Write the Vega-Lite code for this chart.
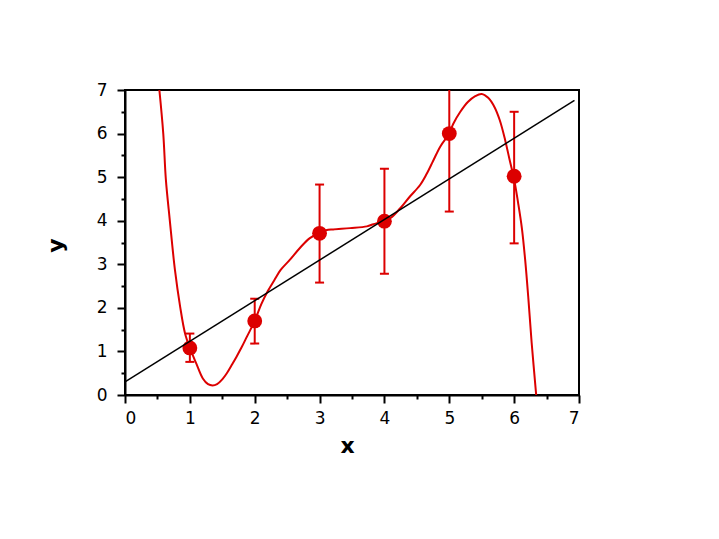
{
  "$schema": "https://vega.github.io/schema/vega-lite/v6.json",
  "width": 454,
  "height": 305,
  "autosize": "none",
  "padding": {"left": 125, "top": 90, "right": 140, "bottom": 144},
  "background": "white",
  "config": {
    "view": {"stroke": "black", "strokeWidth": 2},
    "axis": {
      "domainColor": "black",
      "domainWidth": 2,
      "tickColor": "black",
      "tickWidth": 2,
      "grid": false,
      "labelFont": "DejaVu Sans",
      "labelFontSize": 17,
      "labelColor": "black",
      "titleFont": "DejaVu Sans",
      "titleFontWeight": "bold",
      "titleFontSize": 22,
      "titleColor": "black"
    }
  },
  "datasets": {
    "pts": [
      {"x": 1, "y": 1.08, "lo": 0.76, "hi": 1.41},
      {"x": 2, "y": 1.70, "lo": 1.18, "hi": 2.21},
      {"x": 3, "y": 3.71, "lo": 2.58, "hi": 4.83},
      {"x": 4, "y": 3.99, "lo": 2.78, "hi": 5.19},
      {"x": 5, "y": 6.00, "lo": 4.21, "hi": 7.5},
      {"x": 6, "y": 5.02, "lo": 3.48, "hi": 6.50}
    ],
    "curve": [
      {"x": 0.53, "y": 7.0}, {"x": 0.59, "y": 6.0}, {"x": 0.63, "y": 4.95}, {"x": 0.69, "y": 4.02},
      {"x": 0.77, "y": 2.87}, {"x": 0.85, "y": 2.03}, {"x": 0.925, "y": 1.42}, {"x": 1.0, "y": 1.08},
      {"x": 1.1, "y": 0.72}, {"x": 1.2, "y": 0.38}, {"x": 1.28, "y": 0.25}, {"x": 1.35, "y": 0.22},
      {"x": 1.42, "y": 0.25}, {"x": 1.5, "y": 0.36}, {"x": 1.57, "y": 0.5}, {"x": 1.65, "y": 0.7},
      {"x": 1.72, "y": 0.88}, {"x": 1.8, "y": 1.1}, {"x": 1.88, "y": 1.34}, {"x": 2.0, "y": 1.7},
      {"x": 2.1, "y": 2.08}, {"x": 2.2, "y": 2.38}, {"x": 2.3, "y": 2.63}, {"x": 2.4, "y": 2.87},
      {"x": 2.54, "y": 3.1}, {"x": 2.7, "y": 3.38}, {"x": 2.85, "y": 3.6}, {"x": 3.0, "y": 3.72},
      {"x": 3.1, "y": 3.78}, {"x": 3.21, "y": 3.8}, {"x": 3.47, "y": 3.83}, {"x": 3.73, "y": 3.87},
      {"x": 3.83, "y": 3.92}, {"x": 3.98, "y": 3.99}, {"x": 4.1, "y": 4.07}, {"x": 4.24, "y": 4.28},
      {"x": 4.39, "y": 4.55}, {"x": 4.55, "y": 4.82}, {"x": 4.65, "y": 5.07}, {"x": 4.75, "y": 5.37},
      {"x": 4.86, "y": 5.7}, {"x": 5.0, "y": 6.0}, {"x": 5.06, "y": 6.22}, {"x": 5.17, "y": 6.5},
      {"x": 5.29, "y": 6.73}, {"x": 5.4, "y": 6.86}, {"x": 5.5, "y": 6.91}, {"x": 5.6, "y": 6.82},
      {"x": 5.7, "y": 6.6}, {"x": 5.78, "y": 6.3}, {"x": 5.86, "y": 5.86}, {"x": 5.93, "y": 5.4},
      {"x": 6.0, "y": 4.95}, {"x": 6.06, "y": 4.42}, {"x": 6.12, "y": 3.82}, {"x": 6.17, "y": 3.1},
      {"x": 6.22, "y": 2.2}, {"x": 6.27, "y": 1.2}, {"x": 6.34, "y": 0.0}
    ],
    "fit": [
      {"x": 0, "y": 0.3},
      {"x": 6.93, "y": 6.76}
    ]
  },
  "resolve": {"axis": {"x": "independent", "y": "independent"}},
  "layer": [
    {
      "data": {"name": "pts"},
      "mark": {"type": "rule", "color": "#dc0000", "strokeWidth": 2, "clip": true},
      "encoding": {
        "x": {"field": "x", "type": "quantitative", "scale": {"domain": [0, 7], "nice": false},
          "axis": {"values": [0, 1, 2, 3, 4, 5, 6, 7], "tickSize": 8, "labelPadding": 7, "labelAngle": 0,
            "title": "x", "titleX": 222, "titleY": 57, "titleBaseline": "alphabetic", "titleAlign": "center", "orient": "bottom"}},
        "y": {"field": "lo", "type": "quantitative", "scale": {"domain": [0, 7], "nice": false},
          "axis": {"values": [0, 1, 2, 3, 4, 5, 6, 7], "tickSize": 8, "labelPadding": 10,
            "title": "y", "titleX": -63, "titleY": 155, "titleAngle": 270, "titleBaseline": "alphabetic", "titleAlign": "center", "orient": "left"}},
        "y2": {"field": "hi"}
      }
    },
    {
      "data": {"name": "pts"},
      "mark": {"type": "tick", "orient": "horizontal", "size": 9, "thickness": 2, "color": "#dc0000", "opacity": 1, "clip": true},
      "encoding": {
        "x": {"field": "x", "type": "quantitative", "scale": {"domain": [0, 7], "nice": false},
          "axis": {"values": [0.5, 1.5, 2.5, 3.5, 4.5, 5.5, 6.5], "tickSize": 4, "labels": false, "domain": false, "title": null, "orient": "bottom"}},
        "y": {"field": "lo", "type": "quantitative", "scale": {"domain": [0, 7], "nice": false},
          "axis": {"values": [0.5, 1.5, 2.5, 3.5, 4.5, 5.5, 6.5], "tickSize": 4, "labels": false, "domain": false, "title": null, "orient": "left"}}
      }
    },
    {
      "data": {"name": "pts"},
      "mark": {"type": "tick", "orient": "horizontal", "size": 9, "thickness": 2, "color": "#dc0000", "opacity": 1, "clip": true},
      "encoding": {
        "x": {"field": "x", "type": "quantitative", "scale": {"domain": [0, 7], "nice": false}, "axis": null},
        "y": {"field": "hi", "type": "quantitative", "scale": {"domain": [0, 7], "nice": false}, "axis": null}
      }
    },
    {
      "data": {"name": "curve"},
      "mark": {"type": "line", "color": "#dc0000", "strokeWidth": 2, "interpolate": "catmull-rom", "clip": true},
      "encoding": {
        "x": {"field": "x", "type": "quantitative", "scale": {"domain": [0, 7], "nice": false}, "axis": null},
        "y": {"field": "y", "type": "quantitative", "scale": {"domain": [0, 7], "nice": false}, "axis": null}
      }
    },
    {
      "data": {"name": "pts"},
      "mark": {"type": "circle", "color": "#dc0000", "size": 220, "opacity": 1},
      "encoding": {
        "x": {"field": "x", "type": "quantitative", "scale": {"domain": [0, 7], "nice": false}, "axis": null},
        "y": {"field": "y", "type": "quantitative", "scale": {"domain": [0, 7], "nice": false}, "axis": null}
      }
    },
    {
      "data": {"name": "fit"},
      "mark": {"type": "line", "color": "black", "strokeWidth": 1.5, "clip": true},
      "encoding": {
        "x": {"field": "x", "type": "quantitative", "scale": {"domain": [0, 7], "nice": false}, "axis": null},
        "y": {"field": "y", "type": "quantitative", "scale": {"domain": [0, 7], "nice": false}, "axis": null}
      }
    }
  ]
}
